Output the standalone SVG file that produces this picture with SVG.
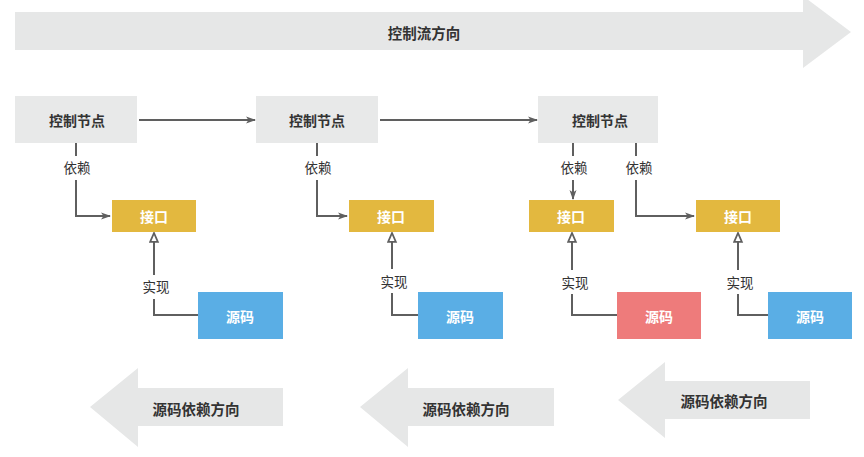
<svg xmlns="http://www.w3.org/2000/svg" width="864" height="457" viewBox="0 0 864 457">
<style>
text{font-family:"Noto Sans CJK SC","Noto Sans",sans-serif;text-anchor:middle;dominant-baseline:central}
.big{fill:#e6e7e7}
.bt{font-size:14.5px;font-weight:bold;fill:#333}
.ctl{fill:#e8e9e9}
.ct{font-size:14px;font-weight:bold;fill:#333}
.ifc{fill:#e3b83f}
.src{fill:#5aaee5}
.red{fill:#ee7b7b}
.wt{font-size:14px;font-weight:bold;fill:#fff}
.ln{fill:none;stroke:#5f5f5f;stroke-width:2}
.lb{font-size:13.5px;fill:#333}
.lbg{fill:#fff}
</style>
<defs>
<marker id="ar" viewBox="0 0 10 10" refX="9" refY="5" markerWidth="10" markerHeight="10" markerUnits="userSpaceOnUse" orient="auto">
<path d="M0,1.5 L10,5 L0,8.5 L2.5,5 Z" fill="#5f5f5f"/>
</marker>
<marker id="tri" viewBox="0 0 10 10" refX="9" refY="5" markerWidth="11" markerHeight="11" markerUnits="userSpaceOnUse" orient="auto">
<path d="M1,1.5 L9,5 L1,8.5 Z" fill="#fff" stroke="#5f5f5f" stroke-width="1.6"/>
</marker>
</defs>
<rect width="864" height="457" fill="#fff"/>
<g id="flow-arrow">
<path class="big" d="M15,12 H803 V-4 L851,32 L803,68 V50 H15 Z"/>
<text class="bt" x="424" y="32">控制流方向</text>
</g>
<g id="dep-arrow-1">
<path class="big" d="M283,388 H138 V368 L90,407 L138,447 V426 H283 Z"/>
<text class="bt" x="196" y="408">源码依赖方向</text>
</g>
<g id="dep-arrow-2">
<path class="big" d="M554,388 H408 V368 L360,407 L408,447 V426 H554 Z"/>
<text class="bt" x="466" y="408">源码依赖方向</text>
</g>
<g id="dep-arrow-3">
<path class="big" d="M810,381 H665 V362 L618,400 L665,438 V419 H810 Z"/>
<text class="bt" x="724" y="400">源码依赖方向</text>
</g>
<g id="connectors">
<path class="ln" marker-end="url(#ar)" d="M139,120 H255"/>
<path class="ln" marker-end="url(#ar)" d="M380,120 H537"/>
<path class="ln" marker-end="url(#ar)" d="M76,143 V216 H110"/>
<path class="ln" marker-end="url(#ar)" d="M317,143 V216 H347"/>
<path class="ln" marker-end="url(#ar)" d="M573,143 V199"/>
<path class="ln" marker-end="url(#ar)" d="M636,143 V216 H694"/>
<path class="ln" marker-end="url(#tri)" d="M198,315 H154 V233"/>
<path class="ln" marker-end="url(#tri)" d="M418,315 H392 V233"/>
<path class="ln" marker-end="url(#tri)" d="M617,315 H572 V233"/>
<path class="ln" marker-end="url(#tri)" d="M768,315 H738 V233"/>
<rect class="lbg" x="58" y="156" width="38" height="24"/>
<text class="lb" x="77" y="167">依赖</text>
<rect class="lbg" x="299" y="156" width="38" height="24"/>
<text class="lb" x="318" y="167">依赖</text>
<rect class="lbg" x="555" y="156" width="38" height="24"/>
<text class="lb" x="574" y="167">依赖</text>
<rect class="lbg" x="620" y="156" width="38" height="24"/>
<text class="lb" x="639" y="167">依赖</text>
<rect class="lbg" x="137" y="275" width="38" height="24"/>
<text class="lb" x="156" y="286">实现</text>
<rect class="lbg" x="375" y="269" width="38" height="24"/>
<text class="lb" x="394" y="281">实现</text>
<rect class="lbg" x="556" y="270" width="38" height="24"/>
<text class="lb" x="575" y="282">实现</text>
<rect class="lbg" x="721" y="270" width="38" height="24"/>
<text class="lb" x="740" y="282">实现</text>
</g>
<g id="control-1"><rect class="ctl" x="15" y="96" width="122" height="47"/><text class="ct" x="77" y="120">控制节点</text></g>
<g id="control-2"><rect class="ctl" x="256" y="96" width="122" height="47"/><text class="ct" x="317" y="120">控制节点</text></g>
<g id="control-3"><rect class="ctl" x="538" y="96" width="120" height="47"/><text class="ct" x="600" y="120">控制节点</text></g>
<g id="interface-1"><rect class="ifc" x="112" y="200" width="84" height="32"/><text class="wt" x="154" y="216">接口</text></g>
<g id="interface-2"><rect class="ifc" x="349" y="200" width="85" height="32"/><text class="wt" x="391" y="216">接口</text></g>
<g id="interface-3"><rect class="ifc" x="529" y="200" width="85" height="32"/><text class="wt" x="571" y="216">接口</text></g>
<g id="interface-4"><rect class="ifc" x="696" y="200" width="84" height="32"/><text class="wt" x="738" y="216">接口</text></g>
<g id="source-1"><rect class="src" x="198" y="292" width="85" height="47"/><text class="wt" x="240" y="316">源码</text></g>
<g id="source-2"><rect class="src" x="418" y="292" width="85" height="47"/><text class="wt" x="460" y="316">源码</text></g>
<g id="source-3"><rect class="red" x="617" y="292" width="84" height="47"/><text class="wt" x="659" y="316">源码</text></g>
<g id="source-4"><rect class="src" x="768" y="292" width="84" height="47"/><text class="wt" x="810" y="316">源码</text></g>
</svg>
